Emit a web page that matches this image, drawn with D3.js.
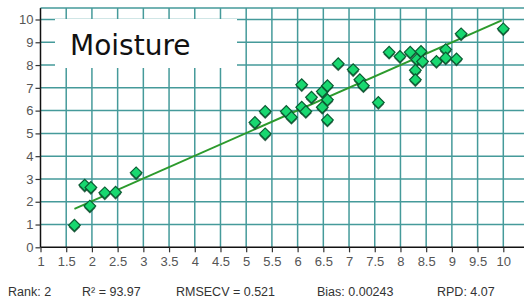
<!DOCTYPE html>
<html>
<head>
<meta charset="utf-8">
<script src="https://cdn.jsdelivr.net/npm/d3@7"></script>
<style>
  html, body { margin: 0; padding: 0; background: #fff; }
  svg { display: block; }
</style>
</head>
<body>
<div id="chart"></div>
<script>
const measured = [1.66, 1.86, 1.98, 1.96, 2.25, 2.46, 2.86,
  5.17, 5.37, 5.37, 5.78, 5.88, 6.08, 6.08, 6.16, 6.27, 6.48, 6.58, 6.58, 6.48, 6.58, 6.79,
  7.08, 7.21, 7.28, 7.57, 7.78, 7.99, 8.19, 8.40, 8.32, 8.43, 8.29, 8.29, 8.70, 8.88, 8.88, 9.09, 9.18, 10.0];
const predicted = [0.97, 2.73, 2.63, 1.81, 2.39, 2.42, 3.27,
  5.48, 5.96, 4.98, 5.96, 5.71, 7.14, 6.15, 5.96, 6.59, 6.84, 7.09, 6.48, 6.15, 5.59, 8.06,
  7.80, 7.36, 7.09, 6.36, 8.56, 8.38, 8.56, 8.60, 8.24, 8.16, 7.77, 7.36, 8.16, 8.68, 8.31, 8.27, 9.37, 9.59];
const fitX = [1.66, 9.97];
const fitY = [1.69, 9.96];

const xTicks = [1, 1.5, 2, 2.5, 3, 3.5, 4, 4.5, 5, 5.5, 6, 6.5, 7, 7.5, 8, 8.5, 9, 9.5, 10];
const yTicks = [0, 1, 2, 3, 4, 5, 6, 7, 8, 9, 10];
const title = 'Moisture';
const stats = ['Rank: 2', 'R\u00b2 = 93.97', 'RMSECV = 0.521', 'Bias: 0.00243', 'RPD: 4.07'];
const statsX = [8, 82, 176, 317, 437];

const width = 524, height = 301;
const svg = d3.select('#chart').append('svg')
    .attr('width', width)
    .attr('height', height);

const x = d3.scaleLinear().domain([1, 10]).range([40.5, 503.3]);
const y = d3.scaleLinear().domain([0, 10]).range([247.3, 19.5]);
const plotRight = width;
const plotTop = y(10.5);

const gridColor = '#459a9a';

// grid
svg.append('g')
    .selectAll('line')
    .data(xTicks.slice(1))
    .enter()
    .append('line')
    .attr('x1', d => x(d)).attr('x2', d => x(d))
    .attr('y1', plotTop).attr('y2', y(0))
    .attr('stroke', gridColor)
    .attr('stroke-width', 1.5);

svg.append('g')
    .selectAll('line')
    .data(yTicks.slice(1).concat([10.5]))
    .enter()
    .append('line')
    .attr('x1', x(1)).attr('x2', plotRight)
    .attr('y1', d => y(d)).attr('y2', d => y(d))
    .attr('stroke', gridColor)
    .attr('stroke-width', 1.5);

// axes
const xAxis = svg.append('g')
    .attr('transform', `translate(0,${y(0)})`)
    .call(d3.axisBottom(x).tickValues(xTicks).tickSize(5).tickFormat(d3.format('')));
xAxis.select('.domain').attr('d', `M${x(1)},0H${plotRight}`).attr('stroke', '#111').attr('stroke-width', 1.5);

const yAxis = svg.append('g')
    .attr('transform', `translate(${x(1)},0)`)
    .call(d3.axisLeft(y).tickValues(yTicks).tickSize(5));
yAxis.select('.domain').attr('d', `M0,${plotTop}V${y(0)}`).attr('stroke', '#111').attr('stroke-width', 1.5);

svg.selectAll('.tick line').attr('stroke', '#333').attr('stroke-width', 1.2);
svg.selectAll('.tick text')
    .style('font-family', '"Liberation Sans", Arial, sans-serif')
    .style('font-size', '13px')
    .attr('fill', '#555');
xAxis.selectAll('.tick text').attr('dy', '0.71em').attr('y', 9);
yAxis.selectAll('.tick text').attr('x', -7);

// title box
svg.append('rect')
    .attr('x', 55).attr('y', 19)
    .attr('width', 182).attr('height', 49)
    .attr('fill', '#fff');
svg.append('text')
    .attr('x', 70).attr('y', 55)
    .text(title)
    .style('font-family', '"DejaVu Sans", sans-serif')
    .style('font-size', '28px')
    .attr('fill', '#111');

// fit line
svg.append('line')
    .attr('x1', x(fitX[0])).attr('y1', y(fitY[0]))
    .attr('x2', x(fitX[1])).attr('y2', y(fitY[1]))
    .attr('stroke', '#2c9a2c')
    .attr('stroke-width', 2);

// points
const diamond = d3.symbol().type(d3.symbolSquare).size(68);
const pts = svg.append('g')
    .selectAll('g')
    .data(measured.map((m, i) => [m, predicted[i]]))
    .enter()
    .append('g')
    .attr('transform', d => `translate(${x(d[0])},${y(d[1])}) rotate(45)`);
pts.append('path')
    .attr('d', diamond)
    .attr('transform', 'translate(1.2,1.2)')
    .attr('fill', '#0b3d24')
    .attr('opacity', 0.75);
pts.append('path')
    .attr('d', diamond)
    .attr('fill', '#18d870')
    .attr('stroke', '#0a5c32')
    .attr('stroke-width', 1.2);

// stats line
svg.append('g')
    .selectAll('text')
    .data(stats)
    .enter()
    .append('text')
    .attr('x', (d, i) => statsX[i])
    .attr('y', 296)
    .text(d => d)
    .style('font-family', '"Liberation Sans", Arial, sans-serif')
    .style('font-size', '12.5px')
    .attr('fill', '#333');
</script>
</body>
</html>
